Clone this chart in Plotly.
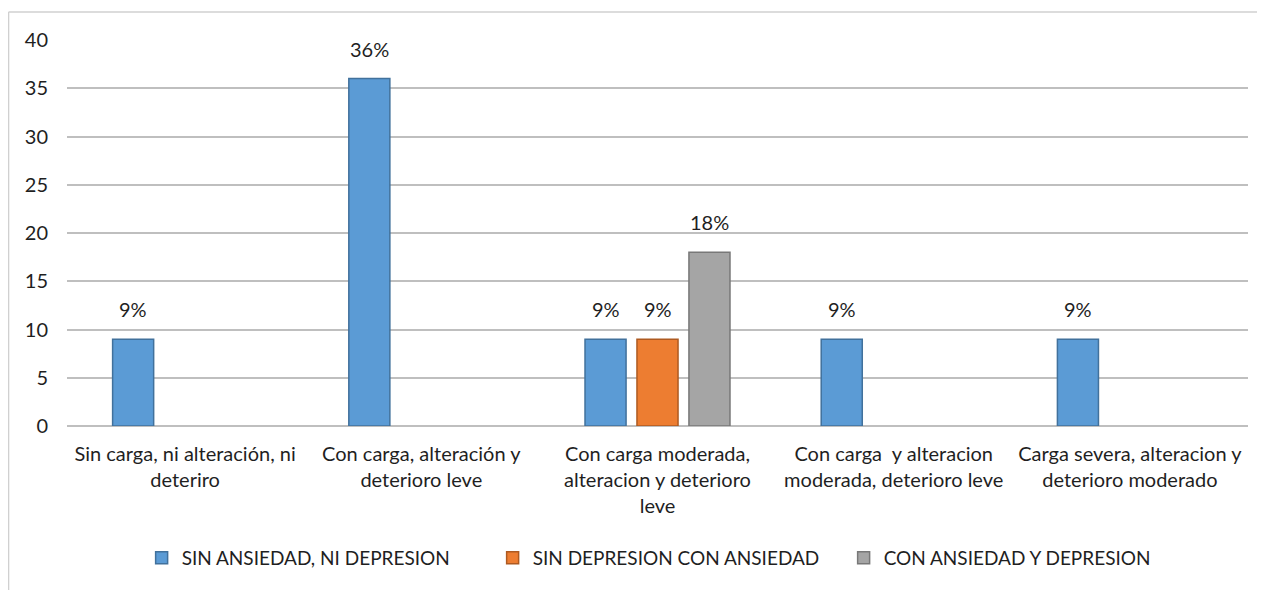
import plotly.graph_objects as go

categorias = [
    "Sin carga, ni alteración, ni<br>deteriro",
    "Con carga, alteración y<br>deterioro leve",
    "Con carga moderada,<br>alteracion y deterioro<br>leve",
    "Con carga  y alteracion<br>moderada, deterioro leve",
    "Carga severa, alteracion y<br>deterioro moderado",
]
series = ["SIN ANSIEDAD, NI DEPRESION", "SIN DEPRESION CON ANSIEDAD", "CON ANSIEDAD Y DEPRESION"]
sin_ansiedad_ni_depresion = [9, 36, 9, 9, 9]
sin_depresion_con_ansiedad = [None, None, 9, None, None]
con_ansiedad_y_depresion = [None, None, 18, None, None]
valores = [sin_ansiedad_ni_depresion, sin_depresion_con_ansiedad, con_ansiedad_y_depresion]

colores = ["#5B9BD5", "#ED7D31", "#A5A5A5"]
bordes = ["#41719C", "#AE5A21", "#787878"]
FUENTE = "Lato, 'Open Sans', sans-serif"
TEXTO = "#1F1F1F"

fig = go.Figure()
for nombre, vals, color, borde in zip(series, valores, colores, bordes):
    fig.add_trace(
        go.Bar(
            x=categorias,
            y=vals,
            name=nombre,
            marker=dict(color=color, line=dict(color=borde, width=1.5)),
        )
    )

# etiquetas de datos encima de cada barra (desplazadas según la serie)
for i, vals in enumerate(valores):
    for cat, v in zip(categorias, vals):
        if v is None:
            continue
        fig.add_annotation(
            x=cat, y=v, text=f"{v}%", showarrow=False,
            xshift=(i - 1) * 52, yshift=16, yanchor="bottom",
            font=dict(size=20, color=TEXTO, family=FUENTE),
        )

fig.update_layout(
    width=1257,
    height=582,
    barmode="group",
    bargap=0.34,
    bargroupgap=0.21,
    plot_bgcolor="white",
    paper_bgcolor="white",
    margin=dict(l=59, r=17, t=32, b=164),
    font=dict(family=FUENTE, size=20, color=TEXTO),
    showlegend=True,
    legend=dict(
        orientation="h",
        x=0.509,
        xanchor="center",
        y=-0.342,
        yanchor="middle",
        entrywidth=306,
        font=dict(size=19, color=TEXTO),
    ),
    yaxis=dict(
        range=[0, 40],
        dtick=5,
        showgrid=True,
        gridcolor="#BFBFBF",
        gridwidth=1.5,
        zeroline=True,
        zerolinecolor="#BFBFBF",
        zerolinewidth=1.5,
        ticks="",
        ticklabelstandoff=18,
        tickfont=dict(size=20),
    ),
    xaxis=dict(
        showgrid=False,
        ticks="",
        tickangle=0,
        ticklabelstandoff=14,
        tickfont=dict(size=20),
    ),
    shapes=[
        dict(type="line", xref="paper", yref="paper", x0=-0.0495, x1=-0.0495,
             y0=1.0725, y1=-0.45, line=dict(color="#D0D0D0", width=1.5)),
        dict(type="line", xref="paper", yref="paper", x0=-0.0495, x1=1.02,
             y0=1.0725, y1=1.0725, line=dict(color="#D0D0D0", width=1.5)),
    ],
)

fig.write_html("out.html")
